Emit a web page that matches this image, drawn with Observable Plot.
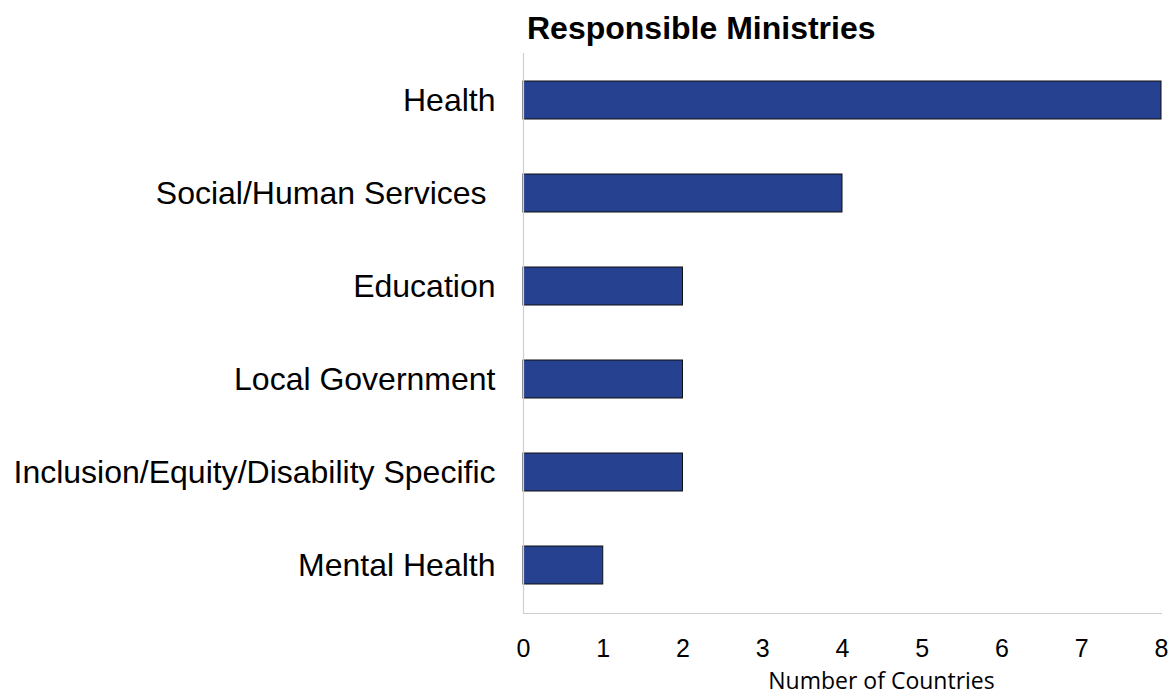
<!DOCTYPE html>
<html>
<head>
<meta charset="utf-8">
<script src="https://cdn.jsdelivr.net/npm/d3@7"></script>
<script src="https://cdn.jsdelivr.net/npm/@observablehq/plot@0.6"></script>
<style>
  body { margin: 0; background: #fff; }
  #title { height: 40px; padding-top: 10px; padding-left: 527px; line-height: 38px;
           font: bold 32px "Liberation Sans", Arial, sans-serif; color: #000; white-space: nowrap; }
  #chart svg { display: block; overflow: visible; }
</style>
</head>
<body>
<div id="title">Responsible Ministries</div>
<div id="chart"></div>
<script>
const categories = ["Health", "Social/Human Services", "Education", "Local Government", "Inclusion/Equity/Disability Specific", "Mental Health"];
const counts = [8, 4, 2, 2, 2, 1];
const xTicks = [0, 1, 2, 3, 4, 5, 6, 7, 8];
const xLabel = "Number of Countries";

const data = categories.map((c, i) => ({category: c, count: counts[i]}));

const chart = Plot.plot({
  width: 1173,
  height: 645,
  marginLeft: 523,
  marginRight: 12,
  marginTop: 3,
  marginBottom: 82,
  x: {domain: [0, 8], ticks: xTicks},
  y: {domain: categories, padding: 0.59, paddingOuter: 0.295},
  style: {background: "#fff"},
  marks: [
    Plot.barX(data, {x: "count", y: "category", fill: "#25418f", stroke: "#111", strokeWidth: 1}),
    Plot.ruleX([0], {stroke: "#cfcfcf", strokeWidth: 1.2}),
    Plot.frame({anchor: "bottom", stroke: "#cfcfcf", strokeWidth: 1.2}),
    Plot.axisY({tickSize: 0, tickPadding: 28, fontSize: 32, fontFamily: "Liberation Sans, Arial, sans-serif", fill: "#000", label: null,
      tickFormat: d => d === "Social/Human Services" ? d + "\u00a0" : d}),
    Plot.axisX({ticks: xTicks, tickSize: 0, tickPadding: 26, fontSize: 25, fontFamily: "Liberation Sans, Arial, sans-serif", fill: "#000", label: null}),
    Plot.text([xLabel], {frameAnchor: "bottom", dx: 39, dy: 68, lineAnchor: "middle", fontSize: 23, fontFamily: "Open Sans, sans-serif", fill: "#000"})
  ]
});
document.getElementById("chart").appendChild(chart);
</script>
</body>
</html>
